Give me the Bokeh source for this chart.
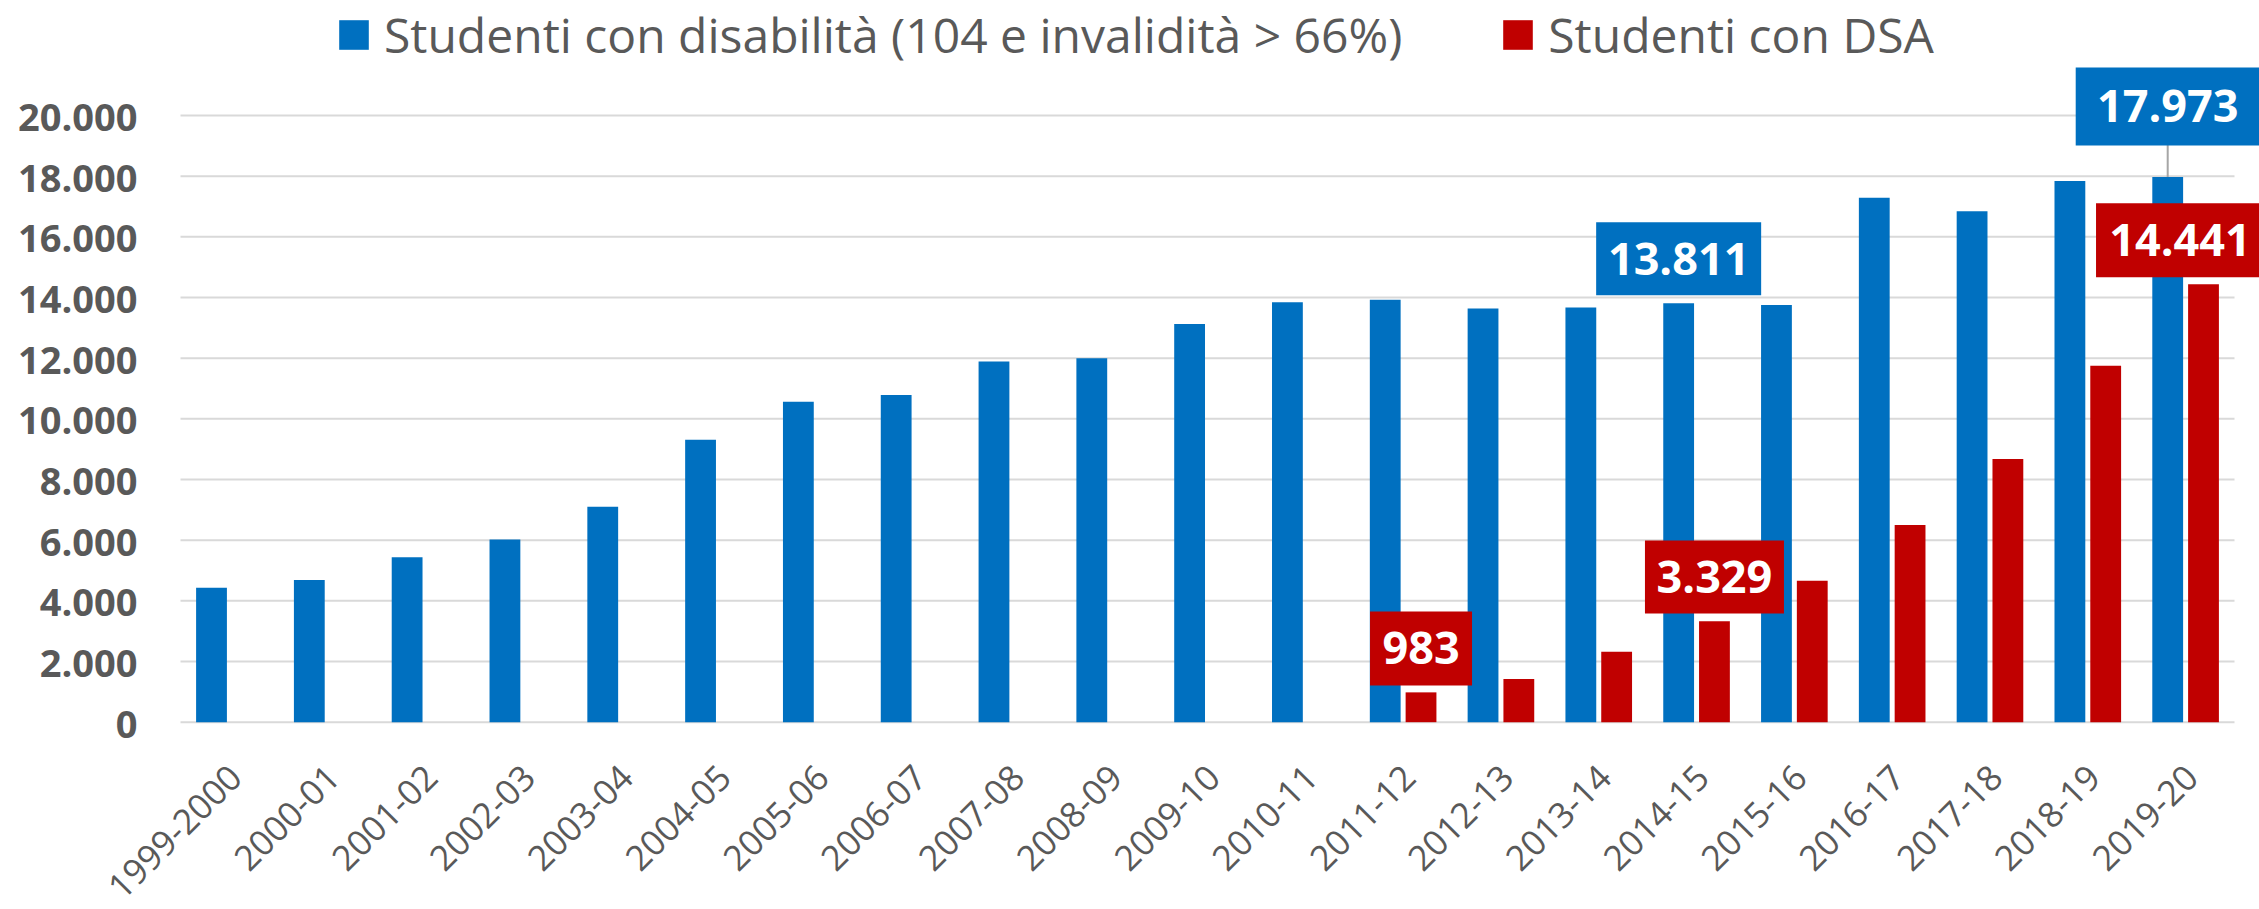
import numpy as np
from bokeh.plotting import figure
from bokeh.models import Range1d, ColumnDataSource, Legend, LegendItem
from bokeh.core.properties import value
from bokeh.embed import file_html
from bokeh.resources import INLINE

# ---------------- data ----------------
categories = ["1999-2000", "2000-01", "2001-02", "2002-03", "2003-04", "2004-05",
              "2005-06", "2006-07", "2007-08", "2008-09", "2009-10", "2010-11",
              "2011-12", "2012-13", "2013-14", "2014-15", "2015-16", "2016-17",
              "2017-18", "2018-19", "2019-20"]
disabilita = [4430, 4690, 5440, 6020, 7100, 9310, 10560, 10790, 11890, 12000, 13130,
              13840, 13930, 13640, 13670, 13811, 13750, 17290, 16840, 17840, 17973]
dsa_categories = ["2011-12", "2012-13", "2013-14", "2014-15", "2015-16", "2016-17",
                  "2017-18", "2018-19", "2019-20"]
dsa = [983, 1420, 2320, 3329, 4660, 6500, 8680, 11750, 14441]
series_names = ["Studenti con disabilità (104 e invalidità > 66%)", "Studenti con DSA"]
y_ticks = [0, 2000, 4000, 6000, 8000, 10000, 12000, 14000, 16000, 18000, 20000]

# highlighted value labels (category, series)
callout_categories = ["2011-12", "2014-15", "2014-15", "2019-20", "2019-20"]
callout_series = ["dsa", "dis", "dsa", "dis", "dsa"]
# placement of the label boxes (box centre, in value units; x shift in category units)
callout_y = [2430, 15276, 4787, 20297, 15889]
callout_dx = [0.0, 0.0, 0.0, 0.0, -0.24]
callout_w = [102, 165, 139, 184, 168]
callout_h = [74, 73, 73, 78, 74]
callout_leader = [False, False, False, True, False]

# ---------------- style ----------------
FONT = "Open Sans"
BLUE = "#0070C0"
RED = "#C00000"
GREY = "#595959"
GRID = "#D9D9D9"
BAR_W = 0.315
SHIFT = 0.183


def fmt(v):
    return f"{v:,}".replace(",", ".")


idx = {c: i for i, c in enumerate(categories)}
x_dis = np.arange(len(categories)) + 0.5 - SHIFT
x_dsa = np.array([idx[c] for c in dsa_categories]) + 0.5 + SHIFT

p = figure(width=2259, height=909, title=None,
           x_range=Range1d(-1.8403, 21.2555), y_range=Range1d(-6175, 23791),
           x_axis_type=None, y_axis_type=None, output_backend="svg", toolbar_location=None,
           min_border_left=0, min_border_right=0, min_border_top=0, min_border_bottom=0)
p.outline_line_color = None
p.background_fill_color = "white"
p.border_fill_color = "white"

# gridlines at the tick values
p.segment(x0=0, x1=len(categories), y0=y_ticks, y1=y_ticks, line_color=GRID, line_width=2)

# value-axis tick labels
p.text(x=0, y=y_ticks, text=[fmt(t) for t in y_ticks], text_align="right",
       text_baseline="middle", x_offset=-43, y_offset=2,
       text_font=value(FONT), text_font_style="bold", text_font_size="38px",
       text_color=GREY)

# bars
r_dis = p.vbar(x=x_dis, top=disabilita, width=BAR_W, fill_color=BLUE, line_color=None)
r_dsa = p.vbar(x=x_dsa, top=dsa, width=BAR_W, fill_color=RED, line_color=None)

# category labels (rotated)
p.text(x=np.arange(len(categories)) + 0.5, y=0, text=categories, angle=np.pi / 4,
       text_align="right", text_baseline="middle", x_offset=6, y_offset=49,
       text_font=value(FONT), text_font_size="35px", text_color=GREY)

# callouts
cx, cy, cv, ccol, lx, ly0, ly1 = [], [], [], [], [], [], []
for cat, ser, yy, dx, lead in zip(callout_categories, callout_series, callout_y,
                                   callout_dx, callout_leader):
    i = idx[cat]
    if ser == "dis":
        bx = i + 0.5 - SHIFT
        v = disabilita[i]
        col = BLUE
    else:
        bx = i + 0.5 + SHIFT
        v = dsa[dsa_categories.index(cat)]
        col = RED
    if lead:
        lx.append(bx)
        ly0.append(v)
        ly1.append(yy)
    cx.append(bx + dx)
    cy.append(yy)
    cv.append(fmt(v))
    ccol.append(col)

p.segment(x0=lx, x1=lx, y0=ly0, y1=ly1, line_color="#A6A6A6", line_width=2)
src = ColumnDataSource(dict(x=cx, y=cy, w=callout_w, h=callout_h, t=cv, c=ccol))
p.rect(x="x", y="y", width="w", height="h", width_units="screen", height_units="screen",
       fill_color="c", line_color=None, source=src)
p.text(x="x", y="y", text="t", source=src, text_align="center", text_baseline="middle",
       text_font=value(FONT), text_font_style="bold", text_font_size="45px",
       text_color="white")

legend = Legend(items=[LegendItem(label=series_names[0], renderers=[r_dis]),
                       LegendItem(label=series_names[1], renderers=[r_dsa])],
                location=(335, 842), orientation="horizontal",
                glyph_width=37, glyph_height=37, label_standoff=12, spacing=97,
                padding=0, margin=0, border_line_color=None, background_fill_alpha=0,
                label_text_font=FONT, label_text_font_size="48px",
                label_text_color=GREY)
p.add_layout(legend)

open("out.html", "w").write(file_html(p, INLINE))
